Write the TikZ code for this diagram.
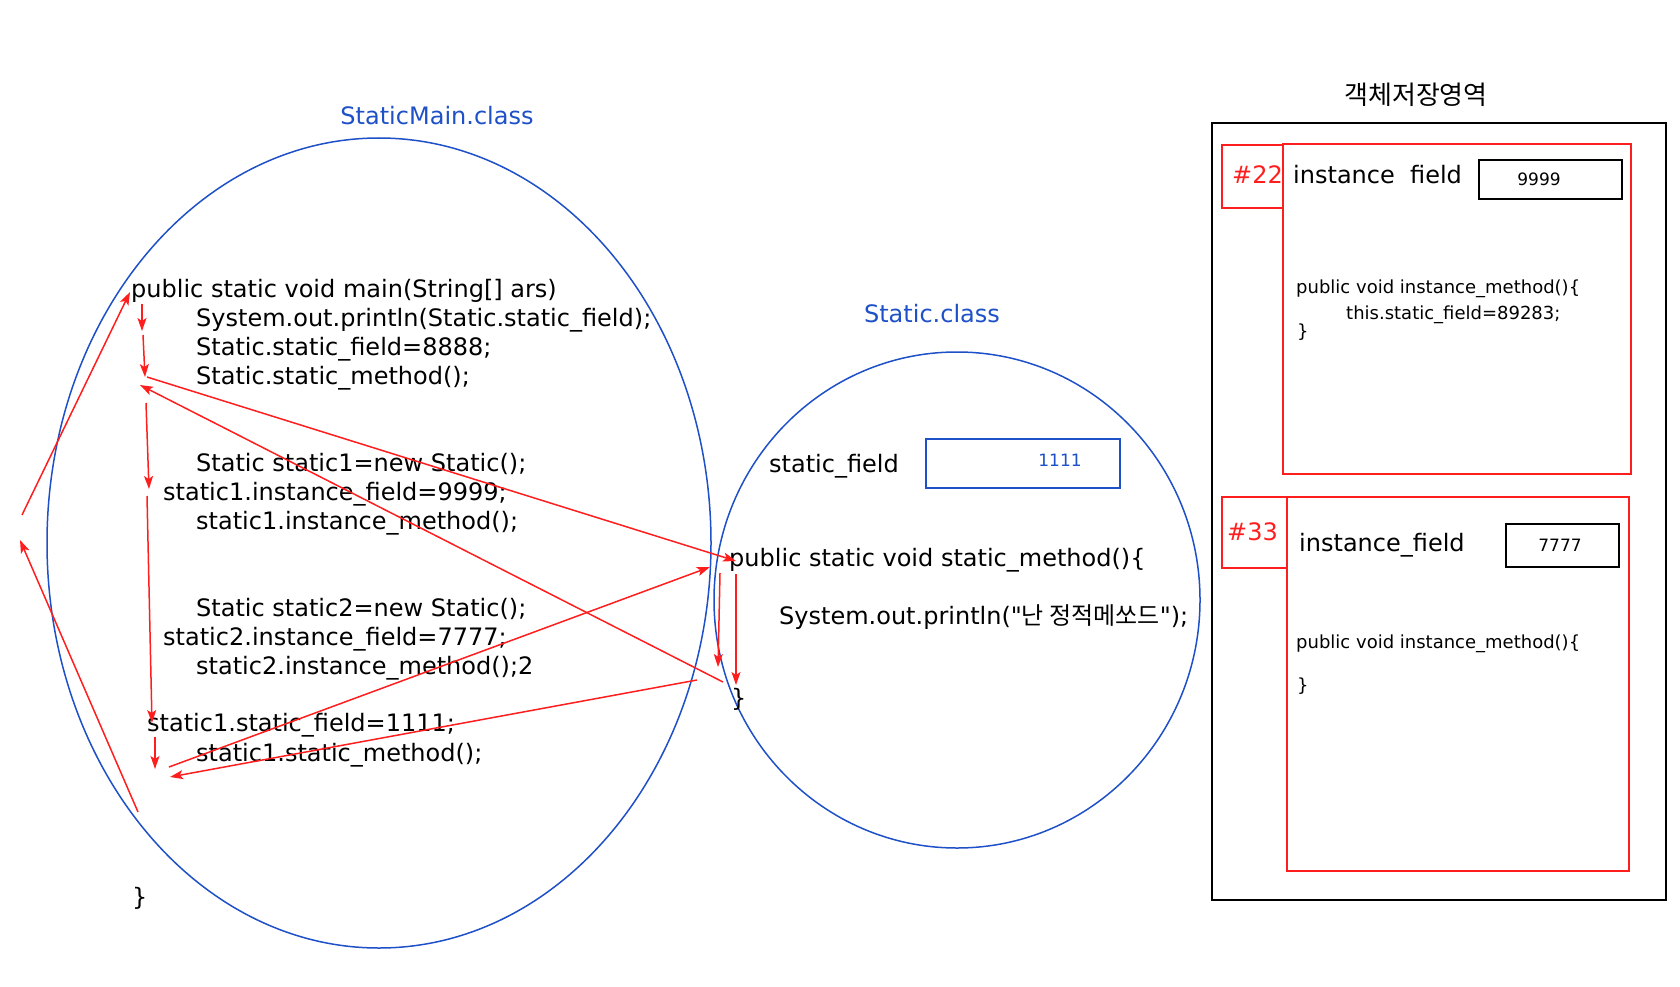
\documentclass[tikz,border=0pt]{standalone}
\usepackage{fontspec}
\setmainfont{DejaVu Sans}[Ligatures=TeXOff]
\newfontfamily\kr{Noto Sans CJK KR}
\usetikzlibrary{arrows.meta,shapes.geometric}
\definecolor{cblue}{RGB}{30,80,200}
\definecolor{cred}{RGB}{255,30,30}
\begin{document}
\begin{tikzpicture}[x=1pt,y=-1pt,
  txt/.style={inner sep=0pt, anchor=base west, font=\fontsize{24}{29}\selectfont},
  stxt/.style={inner sep=0pt, anchor=base west, font=\fontsize{18}{22}\selectfont},
  valtxt/.style={inner sep=0pt, font=\fontsize{17}{20}\selectfont},
  classell/.style={ellipse, draw=cblue, line width=1.5pt, inner sep=0pt},
  box/.style={draw, line width=2pt, inner sep=0pt, anchor=north west},
  redbox/.style={box, draw=cred},
  flow/.style={draw=cred, line width=1.5pt, -{Stealth[length=13pt,width=9pt,inset=3pt]}}]
\useasboundingbox (0,0) rectangle (1680,987);
% class areas
\node[classell, minimum width=664pt, minimum height=810pt] (mainEll) at (379,543) {};
\node[classell, minimum width=486pt, minimum height=496pt] (statEll) at (957,600) {};
\node[txt, anchor=base, text=cblue] (mainTitle) at (437,125) {StaticMain.class};
\node[txt, anchor=base, text=cblue] (statTitle) at (932,322) {Static.class};
% main method text
\node[txt] (l1) at (131,297) {public static void main(String[] ars)};
\node[txt] (l2) at (196,326) {System.out.println(Static.static\_field);};
\node[txt] (l3) at (196,355) {Static.static\_field=8888;};
\node[txt] (l4) at (196,384) {Static.static\_method();};
\node[txt] (l5) at (196,471) {Static static1=new Static();};
\node[txt] (l6) at (163,500) {static1.instance\_field=9999;};
\node[txt] (l7) at (196,529) {static1.instance\_method();};
\node[txt] (l8) at (196,616) {Static static2=new Static();};
\node[txt] (l9) at (163,645) {static2.instance\_field=7777;};
\node[txt] (l10) at (196,674) {static2.instance\_method();2};
\node[txt] (l11) at (147,731) {static1.static\_field=1111;};
\node[txt] (l12) at (196,761) {static1.static\_method();};
\node[txt] (l13) at (132,905) {\}};
% static class text
\node[txt] (sf) at (769,472) {static\_field};
\node[box, draw=cblue, minimum width=194pt, minimum height=49pt] (sfbox) at (925,438) {};
\node[valtxt, text=cblue] (sfval) at (1060,460) {1111};
\node[txt] (sm1) at (729,566) {public static void static\_method()\{};
\node[txt] (sm2) at (779,624) {System.out.println("{\kr 난 정적메쏘드}");};
\node[txt] (sm3) at (731,706) {\}};
% object storage area
\node[txt, anchor=base, font=\fontsize{26}{30}\selectfont] (heapTitle) at (1416,105) {{\kr 객체저장영역}};
\node[box, minimum width=454pt, minimum height=777pt] (heap) at (1211,122) {};
\node[redbox, minimum width=61pt, minimum height=63pt] (id22) at (1221,144) {};
\node[redbox, minimum width=348pt, minimum height=330pt] (obj22) at (1282,143) {};
\node[txt, text=cred] (t22) at (1232,183) {\#22};
\node[txt] (f22) at (1293,183) {instance\ \ field};
\node[box, minimum width=143pt, minimum height=39pt] (v22box) at (1478,159) {};
\node[valtxt] (v22) at (1539,179) {9999};
\node[stxt] (m22a) at (1296,293) {public void instance\_method()\{};
\node[stxt] (m22b) at (1346,319) {this.static\_field=89283;};
\node[stxt] (m22c) at (1297,337) {\}};
\node[redbox, minimum width=65pt, minimum height=71pt] (id33) at (1221,496) {};
\node[redbox, minimum width=342pt, minimum height=374pt] (obj33) at (1286,496) {};
\node[txt, text=cred] (t33) at (1227,540) {\#33};
\node[txt] (f33) at (1299,551) {instance\_field};
\node[box, minimum width=113pt, minimum height=43pt] (v33box) at (1505,523) {};
\node[valtxt] (v33) at (1560,545) {7777};
\node[stxt] (m33a) at (1296,648) {public void instance\_method()\{};
\node[stxt] (m33c) at (1297,691) {\}};
% flow coordinates
\coordinate (a1s) at (22,515);   \coordinate (a1e) at (130,292);
\coordinate (a2s) at (142,304);  \coordinate (a2e) at (142,331);
\coordinate (a3s) at (143,335);  \coordinate (a3e) at (145,377);
\coordinate (a4s) at (147,377);  \coordinate (a4e) at (736,561);
\coordinate (a5s) at (723,682);  \coordinate (a5e) at (140,385);
\coordinate (a6s) at (146,403);  \coordinate (a6e) at (149,489);
\coordinate (a7s) at (147,496);  \coordinate (a7e) at (152,723);
\coordinate (a8s) at (155,737);  \coordinate (a8e) at (155,769);
\coordinate (a9s) at (169,767);  \coordinate (a9e) at (710,567);
\coordinate (a10s) at (697,680); \coordinate (a10e) at (170,777);
\coordinate (a11s) at (138,812); \coordinate (a11e) at (20,540);
\coordinate (a12s) at (720,573); \coordinate (a12e) at (718,667);
\coordinate (a13s) at (736,574); \coordinate (a13e) at (736,685);
\foreach \i in {1,...,13} {\draw[flow] (a\i s) -- (a\i e);}
\end{tikzpicture}
\end{document}
